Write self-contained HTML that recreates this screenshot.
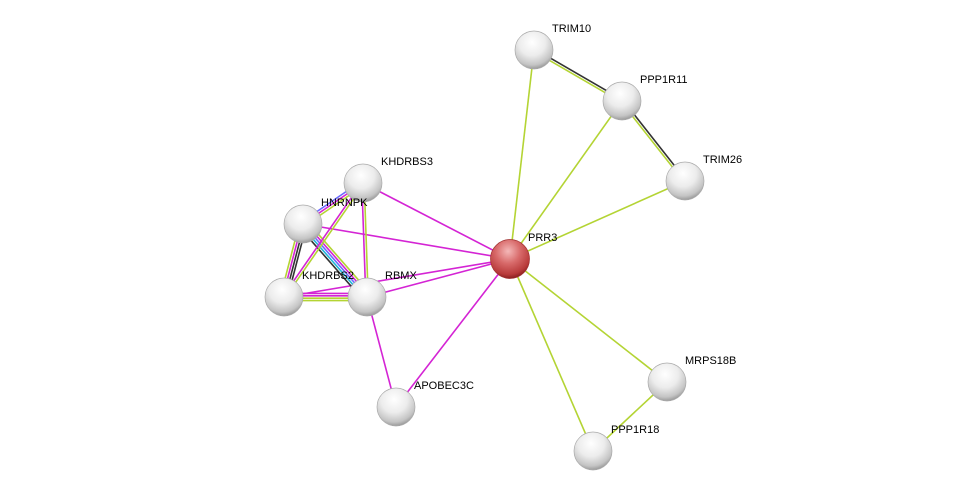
<!DOCTYPE html>
<html><head><meta charset="utf-8"><style>
html,body{margin:0;padding:0;background:#fff;width:976px;height:496px;overflow:hidden}
svg text{font-family:"Liberation Sans",sans-serif;font-size:11px;fill:#000}
</style></head><body>
<svg id="s" width="976" height="496" xmlns="http://www.w3.org/2000/svg">
<defs>
<radialGradient id="g" cx="45%" cy="30%" r="70%">
<stop offset="0" stop-color="#ffffff"/><stop offset="0.5" stop-color="#ececec"/><stop offset="0.85" stop-color="#c4c4c4"/><stop offset="1" stop-color="#9a9a9a"/></radialGradient>
<radialGradient id="r" cx="45%" cy="30%" r="70%">
<stop offset="0" stop-color="#f4b8b8"/><stop offset="0.45" stop-color="#d86a6a"/><stop offset="0.85" stop-color="#b83a3a"/><stop offset="1" stop-color="#8a2020"/></radialGradient>
</defs>
<g id="e"></g><g id="n"></g>
</svg>
<script>
var N={TRIM10:[534,50],PPP1R11:[622,101],TRIM26:[685,181],KHDRBS3:[363,183],HNRNPK:[303,224],PRR3:[510,259],KHDRBS2:[284,297],RBMX:[367,297],APOBEC3C:[396,407],MRPS18B:[667,382],PPP1R18:[593,451]};
var Y="#b4d434",M="#d424d4",K="#333",B="#6a6aff",C="#22b8d8";
var E=[["TRIM10","PRR3",[Y]],["TRIM10","PPP1R11",[K,Y]],["PPP1R11","TRIM26",[K,Y]],["PPP1R11","PRR3",[Y]],["TRIM26","PRR3",[Y]],["PRR3","MRPS18B",[Y]],["PRR3","PPP1R18",[Y]],["MRPS18B","PPP1R18",[Y]],
["PRR3","KHDRBS3",[M]],["PRR3","HNRNPK",[M]],["PRR3","KHDRBS2",[M]],["PRR3","RBMX",[M]],["PRR3","APOBEC3C",[M]],["RBMX","APOBEC3C",[M]],
["HNRNPK","KHDRBS2",[K,K,M,Y]],["HNRNPK","RBMX",[Y,M,B,C,K]],["KHDRBS3","HNRNPK",[Y,M,B]],["KHDRBS3","KHDRBS2",[Y,M]],["KHDRBS3","RBMX",[Y,M]],["KHDRBS2","RBMX",[M,M,Y,Y]]];
var ns="http://www.w3.org/2000/svg",eg=document.getElementById("e"),ng=document.getElementById("n");
E.forEach(function(e){var a=N[e[0]],b=N[e[1]],dx=b[0]-a[0],dy=b[1]-a[1],l=Math.hypot(dx,dy),px=-dy/l,py=dx/l,c=e[2],k=c.length;
c.forEach(function(col,i){var o=(i-(k-1)/2)*2.4;var L=document.createElementNS(ns,"line");
L.setAttribute("x1",a[0]+px*o);L.setAttribute("y1",a[1]+py*o);L.setAttribute("x2",b[0]+px*o);L.setAttribute("y2",b[1]+py*o);
L.setAttribute("stroke",col);L.setAttribute("stroke-width","1.6");eg.appendChild(L);});});
for(var k in N){var p=N[k];var c=document.createElementNS(ns,"circle");c.setAttribute("cx",p[0]);c.setAttribute("cy",p[1]);c.setAttribute("r",k=="PRR3"?19.5:19);
c.setAttribute("fill",k=="PRR3"?"url(#r)":"url(#g)");c.setAttribute("stroke",k=="PRR3"?"#a03030":"#aaa");c.setAttribute("stroke-width","0.7");ng.appendChild(c);}
for(var k in N){var p=N[k],t=document.createElementNS(ns,"text");t.setAttribute("x",p[0]+18);t.setAttribute("y",p[1]-18);t.textContent=k;ng.appendChild(t);}
</script>
</body></html>
